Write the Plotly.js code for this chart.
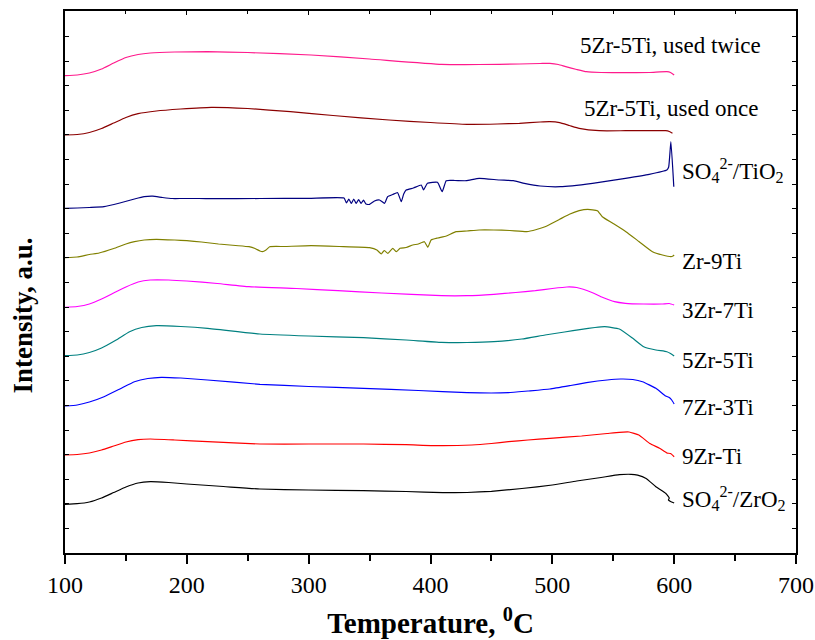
<!DOCTYPE html>
<html>
<head>
<meta charset="utf-8">
<script src="https://cdn.plot.ly/plotly-3.0.1.min.js"></script>
<style>html,body{margin:0;padding:0;background:#fff;}</style>
</head>
<body>
<div id="chart" style="width:815px;height:640px;"></div>
<script>
// ---- data (Temperature in °C, intensity in arbitrary units, curves offset) ----
const tZrO2 = [100,110,120,130,140,150,160,170,185,200,230,260,300,345,380,410,430,450,475,500,520,540,555,564.6,570,577,585,593,596,595.3,597,600];
const yZrO2 = [48.7,49.3,51,55,60.5,66,70,71.3,70.5,69,66.5,64,63,62.3,61.5,60.3,60.5,61.7,64.5,68,72,75.5,78.3,78.7,77.8,74.5,66.3,59.7,55,53,51.5,50];

const t9Zr = [100,110,120,130,140,150,160,170,190,217,260,300,345,380,409,434,450,464,480,498,524,545,555,563,571,580,588,594,597,600];
const y9Zr = [98,98.5,100,103,107,111,113.3,114,113,111.3,109,109,109,108.3,107.3,108,109.5,111.3,113,114.7,117,119.5,120.7,121,118,109.5,104.7,100,99.5,96.3];

const t7Zr = [100,110,120,132,145,157,168,179,195,217,260,300,345,390,430,464,480,498,515,528,545,556,566,574,585,593,596,598,600];
const y7Zr = [147,148,151,156.3,164,171.3,174.5,175.7,175,173,168.7,166.5,164.7,162.5,160.3,160.3,162,164,167.5,170.3,173,174,173.5,171.3,164.7,157,155.5,153,149];

const t5Zr = [100,110,120,130,142,153,163,175,195,217,260,300,345,380,409,430,452,475,494,510,524,535,543,555,566,575,585,594,597,600];
const y5Zr = [197.3,198,200.5,205,213,221.3,225.5,227.3,226.5,224.7,219,217,215.3,213,210.7,210.5,211.3,214,218,221,223.7,225.5,226.3,224,214.7,206.3,203,201.3,199.5,197];

const t3Zr = [100,110,120,130,140,150,160,170,185,200,225,251,290,324,360,409,430,452,470,486,500,512,520,533,541,551,560,575,590,596,600];
const y3Zr = [245.7,246.5,249,254,260,266,271,273,273,272,269.5,266.3,264.5,262.3,260,257.3,257.3,258.7,260.5,262.3,264.5,266,265.5,260.3,255.7,251.3,249.7,249,249,249.5,248];

const tZr9Ti = [100,110,120,128,140,150,157,165,175,190,200,212,226,240,251,256,260,262,265,268,280,302,325,350,356,359.6,362,365,369,372,375,380,385.5,390,395,397.8,400.5,406,413,421,430,440,452,465,479,487,494,506,514,522,529,537,541,549.6,560.4,571.3,582.2,590.4,597.3,599,600];
const yZr9Ti = [295.3,296,298.5,300,304.5,309,311.3,313,313.7,313,312.3,311,309,307.5,306.3,304.5,302,301.3,303,306.3,306.5,307.3,306.5,305.3,303,299,302.5,299.7,304.7,301.3,304.7,305.5,308,309,311.3,305.7,313,315,317,321.3,322,323,323,322.5,321.3,323.5,326.3,333.7,338.7,342.3,343.7,342.3,336.3,329.7,321.3,311.3,301.3,298,296.3,297,298];

const tTiO2 = [100,110,120,132,145,157,165,172,180,188,196,210,221,260,300,329,331,333,335,337,339,341,343,345,347,350,354,358.2,362.3,364.8,369,373,376,378,380,386,392.4,394.3,397.5,405.7,409.6,412.9,420,429.3,440,456.6,468,477,490,506.6,533,560,579.5,594,595.5,597.3,599.7];
const yTiO2 = [344.7,345,345.5,346.3,350,354,356.3,356.8,355.5,354.5,354.5,354.5,354.3,354.5,354.7,355,350,354,349.5,354,349.5,353.5,349.5,353,349,348.7,352,353,349.7,356.3,358.5,360.3,351.3,359,363,365,368,363,369.7,370.7,361.3,372.3,372.5,372.3,374.7,373,372.3,369.7,367,366.3,369.7,374.7,378.7,383,386,411.3,366.3];

const tOnce = [100,110,120,130,140,150,160,175,195,220,250,285,320,366,400,430,455,473,490,498,506,514,522,538.5,560,580,593,596,598.6];
const yOnce = [418,418.5,420.5,424.5,430,435.5,439.3,442,444,445.7,444.5,441.3,437.5,433,430.5,428.7,429,429.7,431,431.3,430.3,427.5,424.7,422.3,422.3,422.3,422.3,421.5,419.7];

const tTwice = [100,110,120,130,140,150,160,170,190,217,250,302,350,409,440,473,490,498,505,511,520,528,540,558,580,594,597,600];
const yTwice = [477.3,478,480,484,490,495.5,498.5,500,501,501.3,500.5,498,494,488.7,488.5,489,489.5,489.7,488.5,486.3,483.5,481.3,480.5,480.3,480.5,481.3,480.5,478];

const seriesNames = ['SO<sub>4</sub><sup>2-</sup>/ZrO<sub>2</sub>','9Zr-Ti','7Zr-3Ti','5Zr-5Ti','3Zr-7Ti','Zr-9Ti','SO<sub>4</sub><sup>2-</sup>/TiO<sub>2</sub>','5Zr-5Ti, used once','5Zr-5Ti, used twice'];
const seriesColors = ['#000000','#FF0000','#0000FF','#008080','#FF00FF','#808000','#000080','#8B0000','#FF1A8C'];
const seriesX = [tZrO2,t9Zr,t7Zr,t5Zr,t3Zr,tZr9Ti,tTiO2,tOnce,tTwice];
const seriesY = [yZrO2,y9Zr,y7Zr,y5Zr,y3Zr,yZr9Ti,yTiO2,yOnce,yTwice];
// label anchor positions (data coords)
const labelX = [605,605,605,605,605,605,605,597,597];
const labelY = [54.7,96.3,145.3,193,243,291.3,383,444.7,508];

const xTicks = [100,200,300,400,500,600,700];

const FONT = 'Liberation Serif';

const traces = seriesX.map((xs, i) => ({
  x: xs, y: seriesY[i], type: 'scatter', mode: 'lines',
  name: seriesNames[i],
  xaxis: i === 0 ? 'x2' : 'x',
  line: {color: seriesColors[i], width: 1.2, shape: 'spline', smoothing: 0.4},
  hoverinfo: 'skip', showlegend: false
}));

const annotations = seriesNames.map((n, i) => ({
  text: n, x: labelX[i], y: labelY[i], xref: 'x', yref: 'y',
  xanchor: i >= 7 ? 'center' : 'left', yanchor: 'middle',
  showarrow: false, font: {family: FONT, size: 23, color: '#000'}
}));
annotations.push({
  text: '<b>Intensity, a.u.</b>', textangle: -90,
  xref: 'paper', x: -0.058, xanchor: 'center',
  yref: 'y', y: 237, yanchor: 'middle',
  showarrow: false, font: {family: FONT, size: 27, color: '#000'}
});

const layout = {
  width: 815, height: 640,
  margin: {l: 65, r: 19, t: 11, b: 87},
  paper_bgcolor: '#fff', plot_bgcolor: '#fff',
  showlegend: false,
  font: {family: FONT, color: '#000'},
  xaxis: {
    range: [100, 700], tickvals: xTicks, ticktext: xTicks.map(String),
    ticks: 'outside', ticklen: 9, tickwidth: 1.5, tickcolor: '#000',
    showline: true, linewidth: 2, linecolor: '#000', mirror: true,
    showgrid: false, zeroline: false,
    tickfont: {family: FONT, size: 24, color: '#000'},
    minor: {dtick: 50, tick0: 100, ticks: 'outside', ticklen: 6, tickwidth: 1.5, tickcolor: '#000', showgrid: false},
    title: {text: '<b>Temperature, <sup>0</sup>C</b>', font: {family: FONT, size: 29, color: '#000'}, standoff: 16}
  },
  xaxis2: {
    range: [100, 700], overlaying: 'x', side: 'top', dtick: 100, tick0: 100,
    ticks: 'inside', ticklen: 4, tickwidth: 1, tickcolor: '#000',
    showticklabels: false, showline: false, showgrid: false, zeroline: false,
    minor: {dtick: 50, tick0: 100, ticks: 'inside', ticklen: 3, tickwidth: 1, tickcolor: '#000', showgrid: false}
  },
  yaxis: {
    range: [0, 542], tick0: 0, dtick: 24.6,
    ticks: 'inside', ticklen: 4, tickwidth: 1, tickcolor: '#000',
    showticklabels: false, showline: true, linewidth: 2, linecolor: '#000', mirror: 'ticks',
    showgrid: false, zeroline: false
  },
  annotations: annotations
};

Plotly.newPlot('chart', traces, layout, {displayModeBar: false});
</script>
</body>
</html>
